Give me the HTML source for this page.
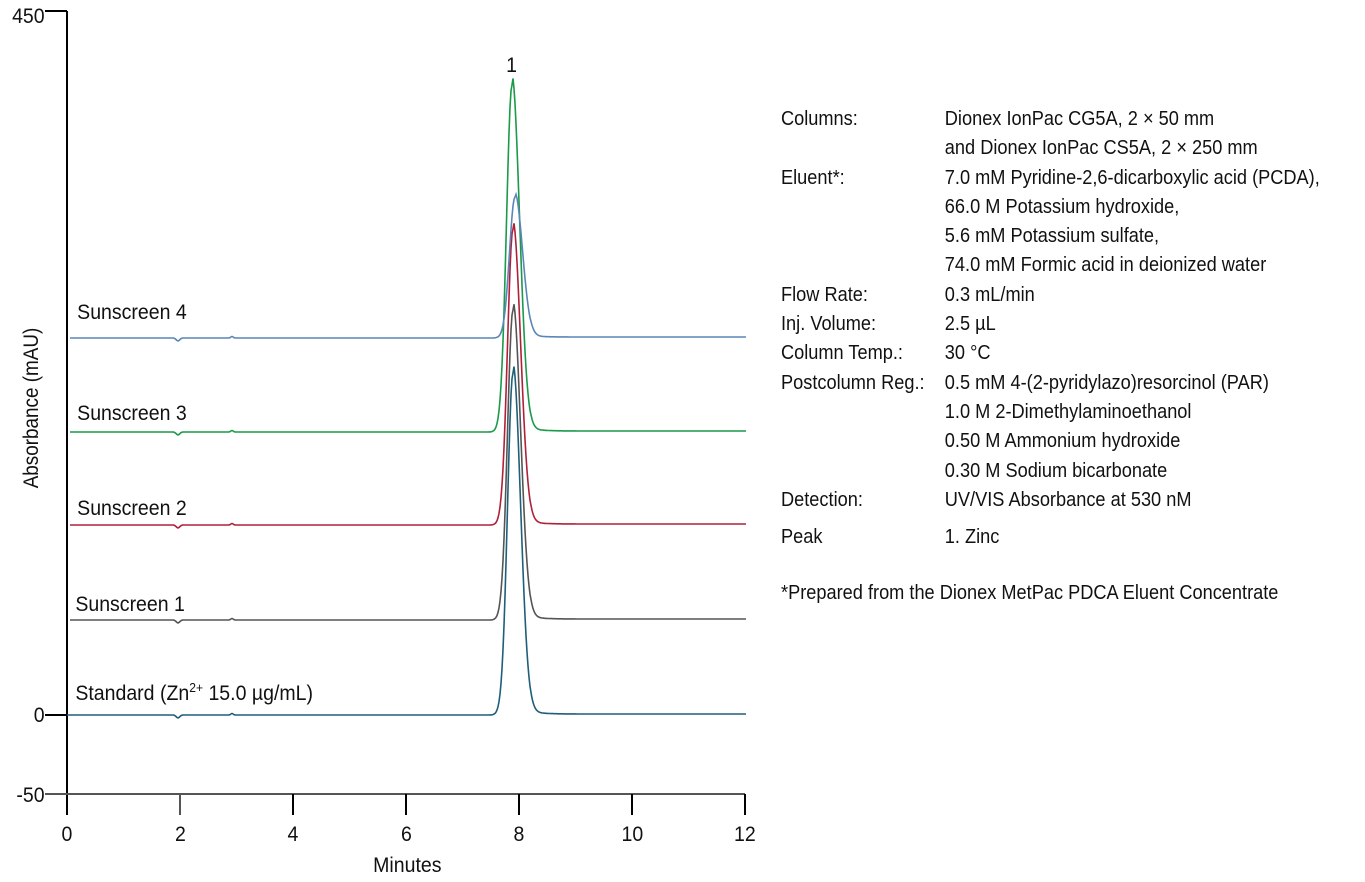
<!DOCTYPE html>
<html><head><meta charset="utf-8"><style>
html,body{margin:0;padding:0;background:#fff;}
svg{display:block;font-family:"Liberation Sans",sans-serif;}
</style></head><body>
<svg id="s" width="1365" height="882" viewBox="0 0 1365 882" xmlns="http://www.w3.org/2000/svg">
<g stroke="#000" stroke-width="2">
<line x1="67" y1="11" x2="67" y2="815"/>
<line x1="45" y1="11" x2="67" y2="11"/>
<line x1="45" y1="715" x2="67" y2="715"/>
<line x1="45" y1="794" x2="745" y2="794" stroke="#555"/>
<line x1="180" y1="794" x2="180" y2="815" stroke="#555"/>
<line x1="293" y1="794" x2="293" y2="815"/>
<line x1="406" y1="794" x2="406" y2="815"/>
<line x1="519" y1="794" x2="519" y2="815"/>
<line x1="632" y1="794" x2="632" y2="815"/>
<line x1="745" y1="794" x2="745" y2="815"/>
</g>
<g font-size="21" fill="#111" transform="scale(0.93,1)">
<text x="48" y="23" text-anchor="end">450</text>
<text x="48" y="722" text-anchor="end">0</text>
<text x="48" y="802" text-anchor="end">-50</text>
<text x="72" y="841" text-anchor="middle">0</text>
<text x="194" y="841" text-anchor="middle">2</text>
<text x="315" y="841" text-anchor="middle">4</text>
<text x="437" y="841" text-anchor="middle">6</text>
<text x="558" y="841" text-anchor="middle">8</text>
<text x="680" y="841" text-anchor="middle">10</text>
<text x="801" y="841" text-anchor="middle">12</text>
<text x="438" y="872" text-anchor="middle">Minutes</text>
<text x="550" y="72" text-anchor="middle">1</text>
<text x="83" y="319">Sunscreen 4</text>
<text x="83" y="420">Sunscreen 3</text>
<text x="83" y="515">Sunscreen 2</text>
<text x="81" y="611">Sunscreen 1</text>
<text x="81" y="700">Standard (Zn<tspan font-size="13" dy="-8">2+</tspan><tspan dy="8"> 15.0 µg/mL)</tspan></text>
</g>
<text font-size="21" fill="#111" transform="translate(38,408) rotate(-90) scale(0.9,1)" text-anchor="middle">Absorbance (mAU)</text>
<g font-size="20" fill="#111" transform="translate(781,0) scale(0.91,1)">
<text x="0" y="125">Columns:</text><text x="180" y="125">Dionex IonPac CG5A, 2 × 50 mm</text>
<text x="180" y="154">and Dionex IonPac CS5A, 2 × 250 mm</text>
<text x="0" y="184">Eluent*:</text><text x="180" y="184">7.0 mM Pyridine-2,6-dicarboxylic acid (PCDA),</text>
<text x="180" y="213">66.0 M Potassium hydroxide,</text>
<text x="180" y="242">5.6 mM Potassium sulfate,</text>
<text x="180" y="271">74.0 mM Formic acid in deionized water</text>
<text x="0" y="301">Flow Rate:</text><text x="180" y="301">0.3 mL/min</text>
<text x="0" y="330">Inj. Volume:</text><text x="180" y="330">2.5 µL</text>
<text x="0" y="359">Column Temp.:</text><text x="180" y="359">30 °C</text>
<text x="0" y="389">Postcolumn Reg.:</text><text x="180" y="389">0.5 mM 4-(2-pyridylazo)resorcinol (PAR)</text>
<text x="180" y="418">1.0 M 2-Dimethylaminoethanol</text>
<text x="180" y="447">0.50 M Ammonium hydroxide</text>
<text x="180" y="477">0.30 M Sodium bicarbonate</text>
<text x="0" y="506">Detection:</text><text x="180" y="506">UV/VIS Absorbance at 530 nM</text>
<text x="0" y="543">Peak</text><text x="180" y="543">1. Zinc</text>
<text x="0" y="599">*Prepared from the Dionex MetPac PDCA Eluent Concentrate</text>
</g>
<g id="tr" fill="none" stroke-width="1.6"></g>
</svg>
<script>
var tr=[
 {b:715,top:373,px:513,c:"#1f5f78",x0:67},
 {b:620,top:310,px:513,c:"#555",x0:70},
 {b:525,top:229,px:513,c:"#b0203a",x0:70},
 {b:432,top:85,px:512,c:"#1a9a4a",x0:70},
 {b:338,top:197,px:515,c:"#5a86b8",x0:70}
];
var g=document.getElementById("tr"),ns="http://www.w3.org/2000/svg";
tr.forEach(function(t){
 var d="",h=t.b-t.top;
 for(var x=t.x0;x<=746;x+=1){
  var y=t.b;
  var dx=x-t.px;
  var s=dx<0?5.5:7.5;
  y-=h*Math.exp(-dx*dx/(2*s*s));
  if(dx>0) y-=h*0.03*Math.exp(-dx/12);
  y+=3*Math.exp(-(x-178)*(x-178)/6);
  y-=1.5*Math.exp(-(x-232)*(x-232)/3);
  if(x>530) y-=1;
  d+=(d?"L":"M")+x+" "+y.toFixed(1);
 }
 var p=document.createElementNS(ns,"path");
 p.setAttribute("d",d);p.setAttribute("stroke",t.c);
 g.appendChild(p);
});
</script>
</body></html>
